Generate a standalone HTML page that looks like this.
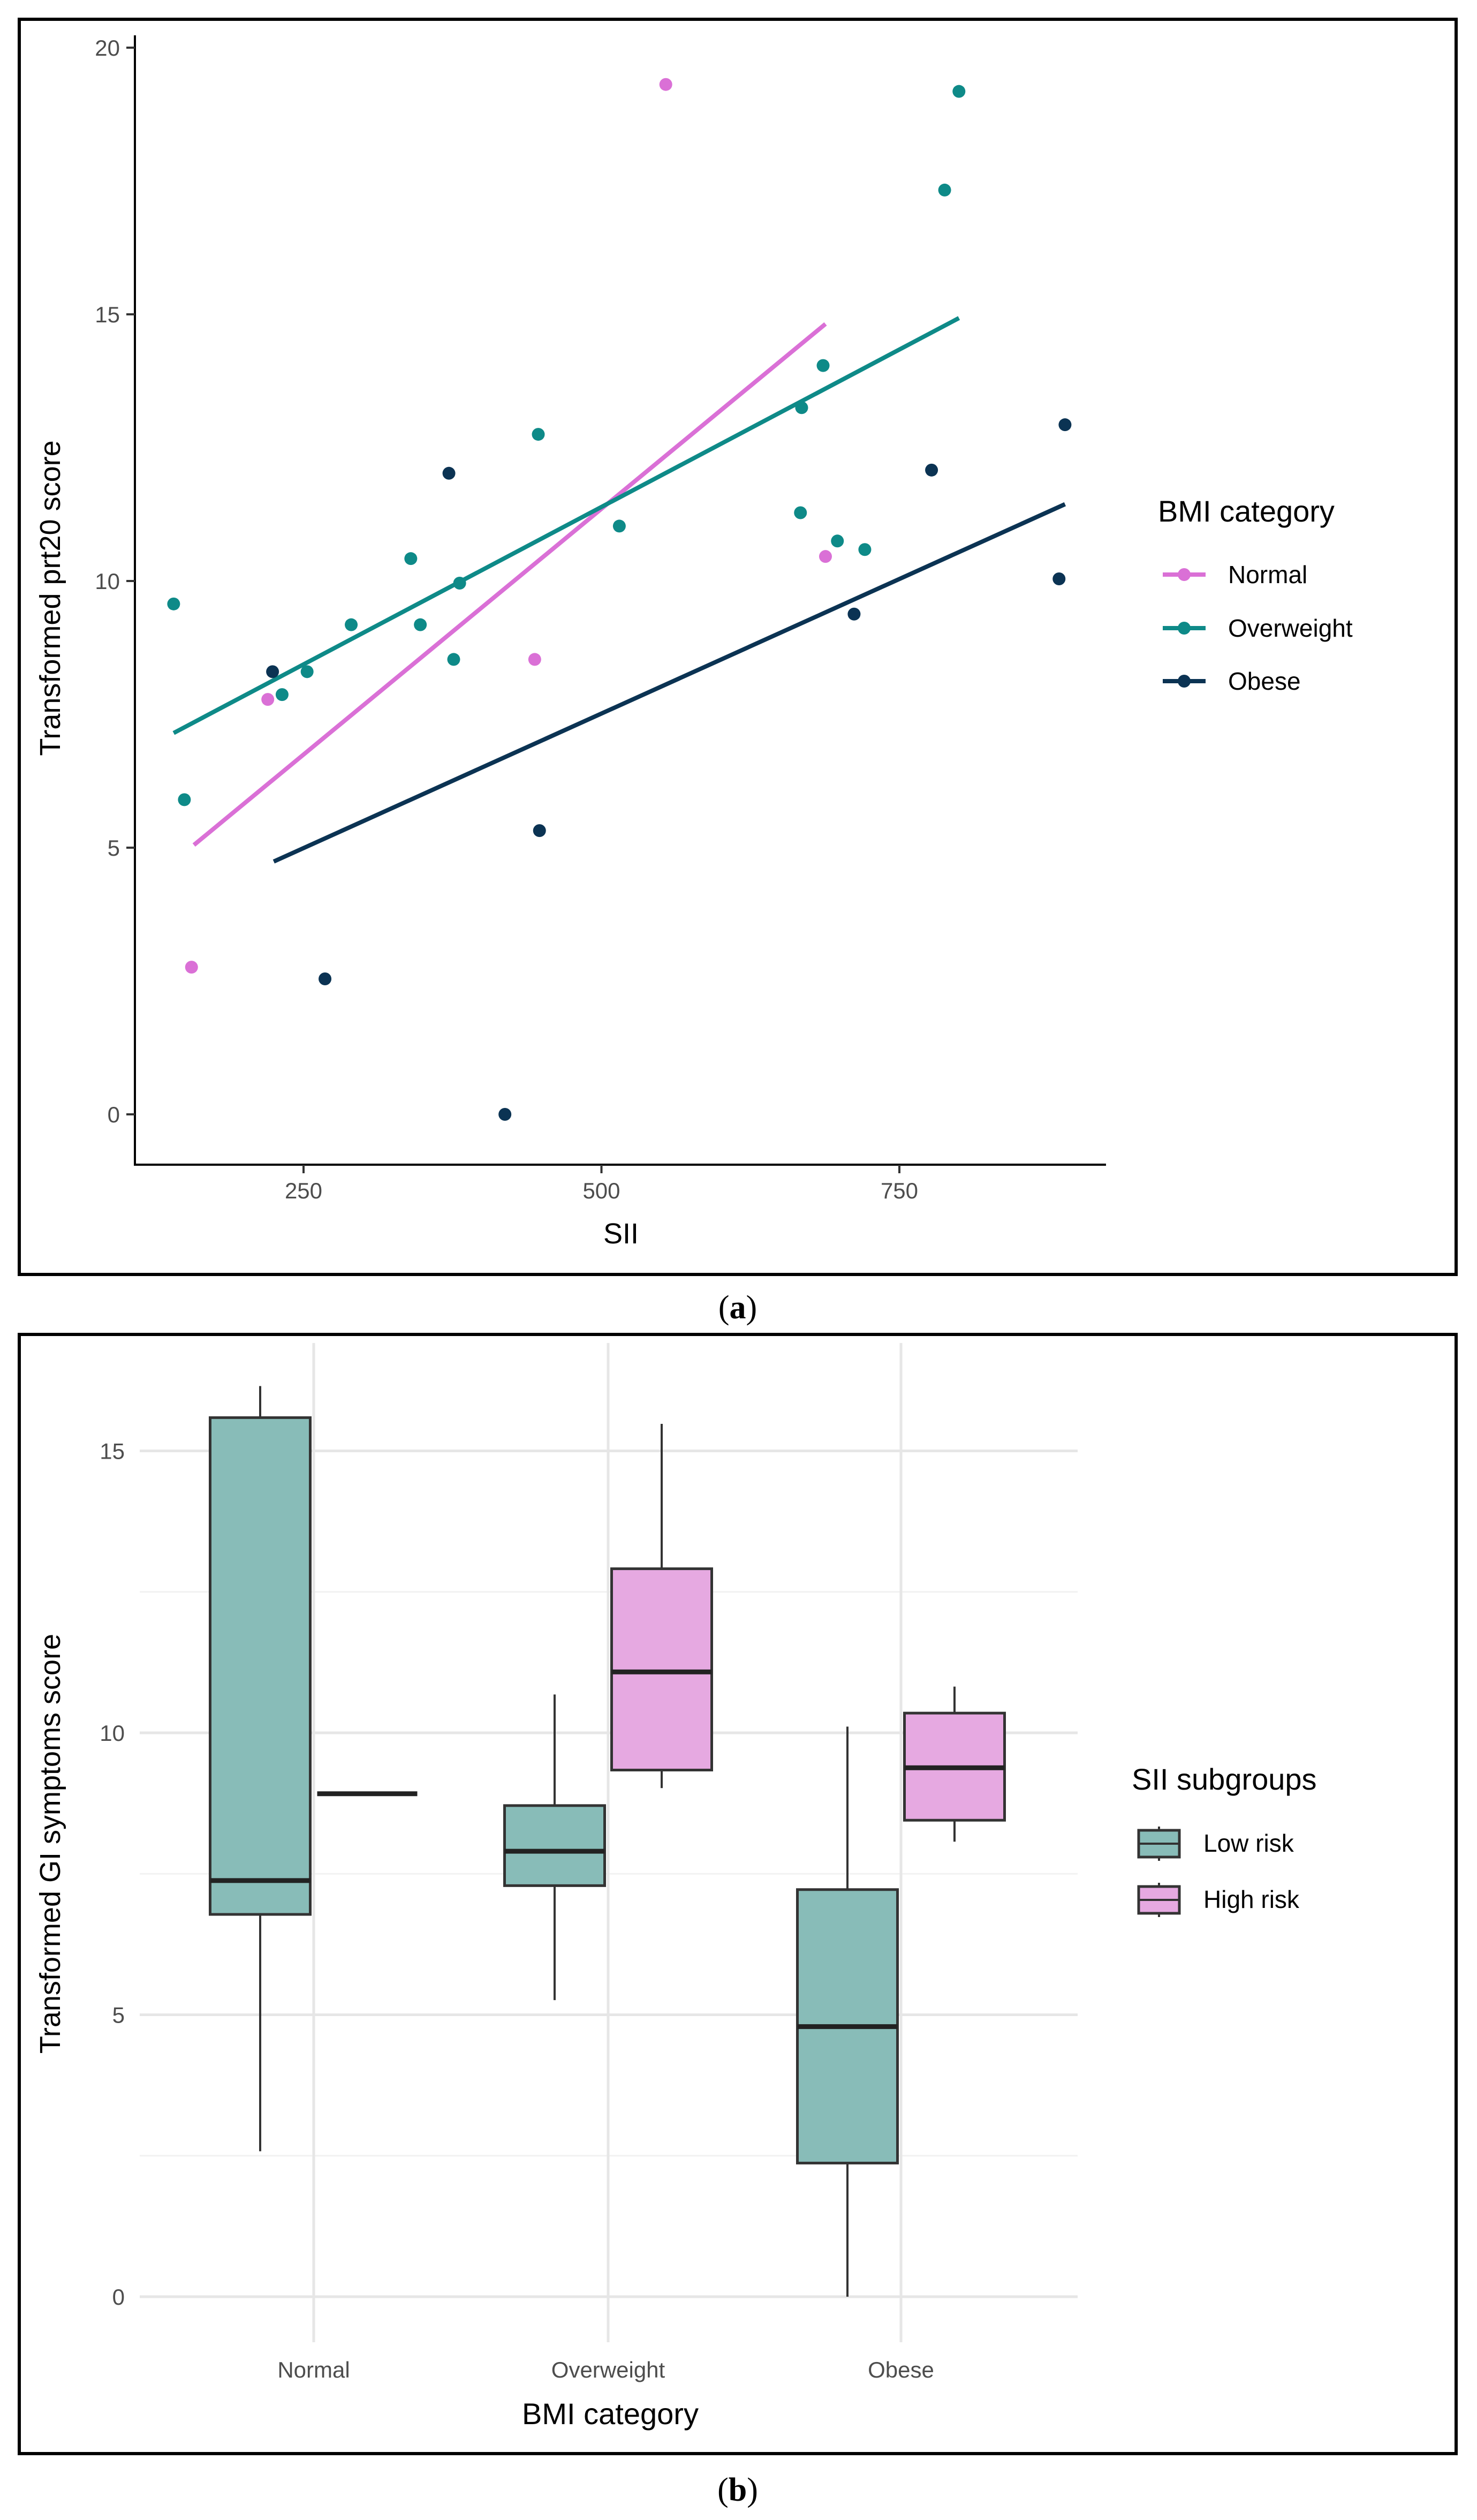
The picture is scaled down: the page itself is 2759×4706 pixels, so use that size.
<!DOCTYPE html>
<html><head><meta charset="utf-8"><style>
html,body{margin:0;padding:0;background:#fff;}
svg{display:block;font-family:"Liberation Sans",sans-serif;}
</style></head><body>
<svg id="fig" width="2759" height="4706" viewBox="0 0 2759 4706" xmlns="http://www.w3.org/2000/svg">
<rect x="36" y="36" width="2684" height="2344" fill="none" stroke="#000" stroke-width="6"/>
<rect x="36" y="2492" width="2684" height="2090" fill="none" stroke="#000" stroke-width="6"/>
<text x="1378" y="2462" font-family="Liberation Serif,serif" font-size="62" text-anchor="middle">(<tspan font-weight="bold">a</tspan>)</text>
<text x="1378" y="4670" font-family="Liberation Serif,serif" font-size="62" text-anchor="middle">(<tspan font-weight="bold">b</tspan>)</text>
<g id="ga"></g>
<g id="gb"></g>
</svg>
<script>
// ---------- Panel A data ----------
const aXTicks = [250, 500, 750];
const aYTicks = [0, 5, 10, 15, 20];
const groups = ["Normal", "Overweight", "Obese"];
const groupColors = ["#da70d6", "#0e8a88", "#0b3353"];
const normalX = [554, 220, 156, 444, 688];
const normalY = [19.31, 7.78, 2.76, 8.53, 10.46];
const overX = [141, 150, 232, 253, 290, 340, 348, 376, 381, 447, 515, 667, 668, 686, 698, 721, 788, 800];
const overY = [9.57, 5.90, 7.87, 8.30, 9.18, 10.42, 9.18, 8.53, 9.96, 12.75, 11.03, 11.28, 13.25, 14.04, 10.75, 10.59, 17.33, 19.18];
const obeseX = [224, 268, 372, 419, 448, 712, 777, 884, 889];
const obeseY = [8.30, 2.54, 12.02, 0, 5.32, 9.38, 12.08, 10.04, 12.93];
const fitX0 = [158, 141, 225];
const fitX1 = [688, 800, 889];
const fitY0 = [5.05, 7.15, 4.74];
const fitY1 = [14.82, 14.93, 11.44];

// ---------- Panel B data ----------
const bCats = ["Normal", "Overweight", "Obese"];
const bYTicks = [0, 5, 10, 15];
const subgroups = ["Low risk", "High risk"];
const lowMin = [2.58, 5.26, 0];
const lowQ1 = [6.78, 7.29, 2.37];
const lowMed = [7.38, 7.90, 4.79];
const lowQ3 = [15.59, 8.71, 7.22];
const lowMax = [16.15, 10.68, 10.11];
const highMin = [8.92, 9.02, 8.07];
const highQ1 = [8.92, 9.34, 8.45];
const highMed = [8.92, 11.08, 9.38];
const highQ3 = [8.92, 12.91, 10.35];
const highMax = [8.92, 15.48, 10.82];

const NS = "http://www.w3.org/2000/svg";
function mk(parent, tag, attrs, text) {
  const e = document.createElementNS(NS, tag);
  for (const k in attrs) e.setAttribute(k, attrs[k]);
  if (text !== undefined) e.textContent = text;
  parent.appendChild(e);
  return e;
}

// ===== Panel A =====
const ga = document.getElementById("ga");
const ax = v => 567 + (v - 250) * (556.5 / 250);
const ay = v => 2081 - v * 99.6;
let el;
el = mk(ga, "line", {x1: 252, y1: 66, x2: 252, y2: 2176, stroke: "#000", "stroke-width": 4});


el = mk(ga, "line", {x1: 250, y1: 2175, x2: 2066, y2: 2175, stroke: "#000", "stroke-width": 4});


aYTicks.forEach(t => {
  const y = ay(t);
  el = mk(ga, "line", {x1: 236, y1: y, x2: 252, y2: y, stroke: "#333", "stroke-width": 4});
  
  
  el = mk(ga, "text", {x: 224, y: y + 15, "font-size": 42, fill: "#4d4d4d", "text-anchor": "end"}, String(t));
  
  
});
aXTicks.forEach(t => {
  const x = ax(t);
  el = mk(ga, "line", {x1: x, y1: 2175, x2: x, y2: 2191, stroke: "#333", "stroke-width": 4});
  
  
  el = mk(ga, "text", {x: x, y: 2238, "font-size": 42, fill: "#4d4d4d", "text-anchor": "middle"}, String(t));
  
  
});
el = mk(ga, "text", {x: 1160, y: 2322, "font-size": 54, fill: "#000", "text-anchor": "middle"}, "SII");


el = mk(ga, "text", {x: 0, y: 0, "font-size": 54, fill: "#000", "text-anchor": "middle", transform: "translate(112,1117) rotate(-90)"}, "Transformed prt20 score");


// fit lines
for (let i = 0; i < 3; i++) {
  el = mk(ga, "line", {x1: ax(fitX0[i]), y1: ay(fitY0[i]), x2: ax(fitX1[i]), y2: ay(fitY1[i]), stroke: groupColors[i], "stroke-width": 8});
  
  
}
const xs = [normalX, overX, obeseX], ys = [normalY, overY, obeseY];
for (let i = 0; i < 3; i++) {
  xs[i].forEach((v, j) => {
    el = mk(ga, "circle", {cx: ax(v), cy: ay(ys[i][j]), r: 12, fill: groupColors[i]});
    
    
  });
}
el = mk(ga, "text", {x: 2163, y: 974, "font-size": 56, fill: "#000"}, "BMI category");


const legY = [1073, 1173, 1272];
for (let i = 0; i < 3; i++) {
  el = mk(ga, "line", {x1: 2172, y1: legY[i], x2: 2252, y2: legY[i], stroke: groupColors[i], "stroke-width": 8});
  
  
  el = mk(ga, "circle", {cx: 2212, cy: legY[i], r: 12, fill: groupColors[i]});
  
  
  el = mk(ga, "text", {x: 2294, y: legY[i] + 16, "font-size": 46, fill: "#000"}, groups[i]);
  
  
}

// ===== Panel B =====
const gb = document.getElementById("gb");
const by = v => 4289 - v * 105.3;
const catX = [586, 1136, 1683];
const off = 100, bw = 187;
const pTop = 2508, pBot = 4374, pL = 261, pR = 2013;
[2.5, 7.5, 12.5].forEach(t => {
  el = mk(gb, "line", {x1: pL, y1: by(t), x2: pR, y2: by(t), stroke: "#f2f2f2", "stroke-width": 3});
  
  
});
bYTicks.forEach(t => {
  el = mk(gb, "line", {x1: pL, y1: by(t), x2: pR, y2: by(t), stroke: "#e6e6e6", "stroke-width": 5});
  
  
  el = mk(gb, "text", {x: 233, y: by(t) + 15, "font-size": 42, fill: "#4d4d4d", "text-anchor": "end"}, String(t));
  
  
});
bCats.forEach((c, i) => {
  el = mk(gb, "line", {x1: catX[i], y1: pTop, x2: catX[i], y2: pBot, stroke: "#e6e6e6", "stroke-width": 5});
  
  
  el = mk(gb, "text", {x: catX[i], y: 4440, "font-size": 42, fill: "#4d4d4d", "text-anchor": "middle"}, c);
  
  
});
el = mk(gb, "text", {x: 1140, y: 4527, "font-size": 56, fill: "#000", "text-anchor": "middle"}, "BMI category");


el = mk(gb, "text", {x: 0, y: 0, "font-size": 54, fill: "#000", "text-anchor": "middle", transform: "translate(112,3443) rotate(-90)"}, "Transformed GI symptoms score");



function box(cx, mn, q1, md, q3, mx, fill, name) {
  el = mk(gb, "line", {x1: cx, y1: by(mx), x2: cx, y2: by(q3), stroke: "#333", "stroke-width": 4});
  
  
  el = mk(gb, "line", {x1: cx, y1: by(q1), x2: cx, y2: by(mn), stroke: "#333", "stroke-width": 4});
  
  
  el = mk(gb, "rect", {x: cx - bw / 2, y: by(q3), width: bw, height: Math.max(0, by(q1) - by(q3)), fill: fill, stroke: "#333", "stroke-width": 5});
  
  
  el = mk(gb, "line", {x1: cx - bw / 2, y1: by(md), x2: cx + bw / 2, y2: by(md), stroke: "#222", "stroke-width": 9});
  
  
}
bCats.forEach((c, i) => {
  box(catX[i] - off, lowMin[i], lowQ1[i], lowMed[i], lowQ3[i], lowMax[i], "#88bcb8", 'box-' + c.toLowerCase() + '-low');
  box(catX[i] + off, highMin[i], highQ1[i], highMed[i], highQ3[i], highMax[i], "#e6a9e1", 'box-' + c.toLowerCase() + '-high');
});
el = mk(gb, "text", {x: 2114, y: 3342, "font-size": 56, fill: "#000"}, "SII subgroups");


const lkY = [3443, 3548], lkF = ["#88bcb8", "#e6a9e1"];
for (let i = 0; i < 2; i++) {
  el = mk(gb, "line", {x1: 2165, y1: lkY[i] - 32, x2: 2165, y2: lkY[i] + 32, stroke: "#333", "stroke-width": 4});
  
  
  el = mk(gb, "rect", {x: 2127, y: lkY[i] - 25, width: 76, height: 50, fill: lkF[i], stroke: "#333", "stroke-width": 5});
  
  
  el = mk(gb, "line", {x1: 2127, y1: lkY[i], x2: 2203, y2: lkY[i], stroke: "#333", "stroke-width": 4});
  
  
  el = mk(gb, "text", {x: 2248, y: lkY[i] + 15, "font-size": 46, fill: "#000"}, subgroups[i]);
  
  
}
</script>
</body></html>
